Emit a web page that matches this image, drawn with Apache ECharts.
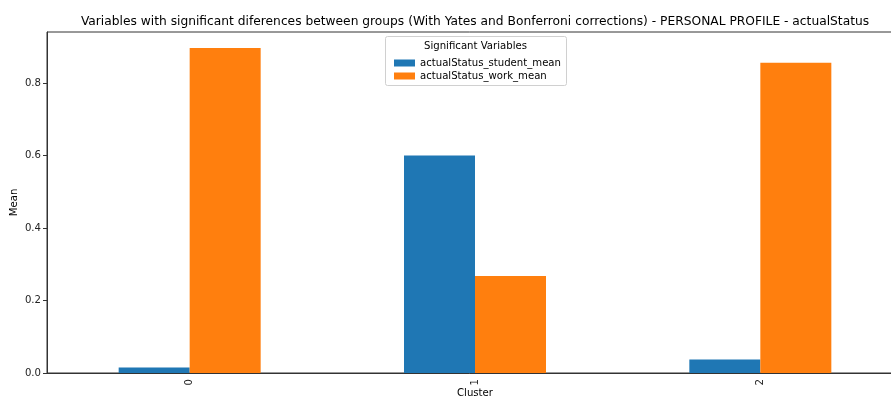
<!DOCTYPE html>
<html>
<head>
<meta charset="utf-8">
<script src="https://cdn.jsdelivr.net/npm/echarts@6/dist/echarts.min.js"></script>
<style>
  html, body { margin: 0; padding: 0; background: #fff; }
  #chart { width: 891px; height: 398px; }
</style>
</head>
<body>
<div id="chart"></div>
<script>
// Cluster categories and per-cluster means
const clusters = ['0', '1', '2'];
const studentMean = [0.015, 0.600, 0.037];
const workMean = [0.897, 0.268, 0.856];
const seriesNames = ['actualStatus_student_mean', 'actualStatus_work_mean'];
const yTicks = [0, 0.2, 0.4, 0.6, 0.8];

const FONT = 'DejaVu Sans';
const chart = echarts.init(document.getElementById('chart'), null, { renderer: 'canvas' });

chart.setOption({
  animation: false,
  backgroundColor: '#ffffff',
  grid: {
    left: 47, top: 32, width: 856, height: 341,
    outerBoundsMode: 'none',
    containLabel: false,
    show: true, borderColor: '#333', borderWidth: 1, backgroundColor: 'transparent'
  },
  legend: {
    orient: 'vertical',
    left: 389,
    top: 52,
    itemWidth: 21,
    itemHeight: 7,
    itemGap: 1,
    icon: 'rect',
    data: seriesNames,
    textStyle: { fontFamily: FONT, fontSize: 10.15, color: '#000', lineHeight: 12 }
  },
  graphic: [
    {
      type: 'text',
      x: 475, y: 21.5,
      style: {
        text: 'Variables with significant diferences between groups (With Yates and Bonferroni corrections) - PERSONAL PROFILE - actualStatus',
        fontFamily: FONT, fontSize: 12.25, fill: '#000', align: 'center', verticalAlign: 'middle'
      },
      z: 10
    },
    {
      type: 'rect',
      shape: { x: 385.5, y: 36.5, width: 181, height: 49, r: 2 },
      style: { fill: 'rgba(255,255,255,0.8)', stroke: '#d0d0d0', lineWidth: 1 },
      z: 0
    },
    {
      type: 'text',
      x: 475.5, y: 46,
      style: { text: 'Significant Variables', fontFamily: FONT, fontSize: 10.15, fill: '#000', align: 'center', verticalAlign: 'middle' },
      z: 10
    }
  ],
  xAxis: {
    type: 'category',
    data: clusters,
    name: 'Cluster',
    nameLocation: 'middle',
    nameGap: 20,
    nameMoveOverlap: false,
    nameTextStyle: { fontFamily: FONT, fontSize: 10.15, color: '#000', verticalAlign: 'middle' },
    axisLine: { lineStyle: { color: '#333', width: 1 } },
    axisTick: { alignWithLabel: true, length: 4, lineStyle: { color: '#333' } },
    axisLabel: { rotate: 90, margin: 6, fontFamily: FONT, fontSize: 10.15, color: '#222' },
    splitLine: { show: false }
  },
  yAxis: {
    type: 'value',
    min: 0,
    max: 0.941,
    name: 'Mean',
    nameLocation: 'middle',
    nameGap: 33,
    nameMoveOverlap: false,
    nameTextStyle: { fontFamily: FONT, fontSize: 10.15, color: '#000', verticalAlign: 'middle' },
    axisLine: { show: true, lineStyle: { color: '#333', width: 1 } },
    axisTick: { show: true, length: 4, customValues: yTicks, lineStyle: { color: '#333' } },
    axisLabel: {
      customValues: yTicks,
      margin: 6,
      fontFamily: FONT, fontSize: 10.15, color: '#222',
      formatter: v => v.toFixed(1)
    },
    splitLine: { show: false }
  },
  series: [
    {
      name: seriesNames[0],
      type: 'bar',
      data: studentMean,
      barWidth: 71,
      barGap: '0%',
      itemStyle: { color: '#1f77b4' }
    },
    {
      name: seriesNames[1],
      type: 'bar',
      data: workMean,
      barWidth: 71,
      barGap: '0%',
      itemStyle: { color: '#ff7f0e' }
    }
  ]
});
</script>
</body>
</html>
